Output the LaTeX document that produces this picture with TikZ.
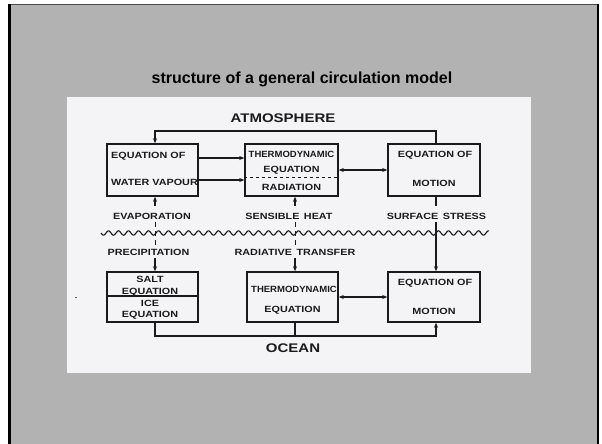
\documentclass[tikz,border=0pt]{standalone}
\usepackage{fontspec}
\setmainfont{Liberation Sans}
\newfontfamily\letterfont{Liberation Sans}[FakeStretch=1.2]
\usetikzlibrary{arrows.meta}
\definecolor{slidegray}{HTML}{B2B2B2}
\definecolor{paper}{HTML}{F4F4F6}
\definecolor{ink}{HTML}{1A1A1A}
\newcommand{\squeeze}[1]{\scalebox{0.88}[1]{#1}}
\begin{document}
\begin{tikzpicture}[x=1pt, y=-1pt, >={Stealth[length=5pt,width=4pt]},
    box/.style={draw=ink, line width=1.5pt, minimum width=91pt, minimum height=52pt, inner sep=0pt},
    lbl/.style={text=ink, font=\letterfont\bfseries\fontsize{9}{10}\selectfont, inner sep=1pt, text height=6.5pt, text depth=0pt},
    head/.style={text=ink, font=\letterfont\bfseries\fontsize{12.5}{13}\selectfont, inner sep=1pt, text height=9pt, text depth=0pt},
    conn/.style={draw=ink, line width=1.2pt},
    tick/.style={draw=ink, line width=1pt, dash pattern=on 5pt off 4pt}]
    \useasboundingbox (0,0) rectangle (602,444);

    % Folie und Rahmen
    \fill[white] (0,0) rectangle (602,444);
    \fill[slidegray] (9.5,4.5) rectangle (597.5,450);
    \draw[line width=1pt, black!70] (9.5,4.5) -- (597.5,4.5);
    \draw[line width=3pt] (9.5,4.5) -- (9.5,450);
    \draw[line width=2.5pt] (597.8,4.5) -- (597.8,450);
    \node[font=\bfseries\fontsize{16}{18}\selectfont, anchor=base, inner sep=0pt] (title) at (302,83) {structure of a general circulation model};

    % eingescanntes Blatt
    \fill[paper] (67,97) rectangle (531,373);

    % Spalten der senkrechten Verbindungen
    \coordinate (cA) at (155,0);
    \coordinate (cB) at (295,0);
    \coordinate (cC) at (436,0);
    \coordinate (top) at (0,131);
    \coordinate (bot) at (0,336);

    % Atmosphaere
    \node[head] (atm) at (283,118) {ATMOSPHERE};
    \node[box] (wv) at (152.5,170) {};
    \node[box, minimum width=93pt] (ta) at (291.5,170) {};
    \node[box, minimum width=92pt] (ma) at (434,170) {};
    \node[lbl, anchor=west] (wv1) at (110,155) {EQUATION OF};
    \node[lbl, anchor=west] (wv2) at (110,182) {WATER VAPOUR};
    \node[lbl] (ta1) at (291.5,154) {\squeeze{THERMODYNAMIC}};
    \node[lbl] (ta2) at (291.5,169) {EQUATION};
    \node[lbl] (ta3) at (291.5,187) {RADIATION};
    \node[lbl] (ma1) at (435,154) {EQUATION OF};
    \node[lbl] (ma2) at (434,183) {MOTION};
    \draw[ink, line width=1pt, dashed] ([yshift=-7pt]ta.west) -- ([yshift=-7pt]ta.east);

    \draw[conn, ->] ([yshift=12pt]wv.east) -- ([yshift=12pt]ta.west);
    \draw[conn, ->] ([yshift=-10pt]wv.east) -- ([yshift=-10pt]ta.west);
    \draw[conn, <->] (ta.east) -- (ma.west);
    \draw[conn, ->] (ma.north -| cC) |- (top -| cA) -- (wv.north -| cA);

    % Ozean
    \node[box, minimum height=50pt] (si) at (152.5,297) {};
    \node[box, minimum height=50pt] (to) at (292.5,297) {};
    \node[box, minimum width=92pt, minimum height=50pt] (mo) at (434,297) {};
    \draw[ink, line width=1.2pt] ([yshift=1pt]si.west) -- ([yshift=1pt]si.east);
    \node[lbl] (si1) at (150,279) {SALT};
    \node[lbl] (si2) at (150,291) {EQUATION};
    \node[lbl] (si3) at (150,303) {ICE};
    \node[lbl] (si4) at (150,314) {EQUATION};
    \node[lbl] (to1) at (294,289) {\squeeze{THERMODYNAMIC}};
    \node[lbl] (to2) at (292.5,309) {EQUATION};
    \node[lbl] (mo1) at (435,282) {EQUATION OF};
    \node[lbl] (mo2) at (434,311) {MOTION};
    \node[head] (ocean) at (293,348) {OCEAN};

    \draw[conn, <->] (to.east) -- (mo.west);
    \draw[conn, ->] (si.south -| cA) |- (bot -| cC) -- (mo.south -| cC);
    \draw[conn] (to.south -| cB) -- (bot -| cB);

    % Flüsse an der Oberflaeche
    \node[lbl] (evap) at (152,216) {EVAPORATION};
    \node[lbl] (sens) at (289,216) {SENSIBLE\, HEAT};
    \node[lbl] (stress) at (436.5,216) {SURFACE\, STRESS};
    \node[lbl] (precip) at (148.5,252) {PRECIPITATION};
    \node[lbl] (radtr) at (295,252) {RADIATIVE\, TRANSFER};

    \draw[conn, ->, shorten <=6pt] (evap.north -| cA) -- (wv.south -| cA);
    \draw[conn, ->, shorten <=6pt] (sens.north -| cB) -- (ta.south -| cB);
    \draw[conn, shorten >=6pt] (ma.south -| cC) -- (stress.north -| cC);
    \draw[conn, ->, shorten <=1.5pt] (stress.south -| cC) -- (mo.north -| cC);
    \draw[tick, shorten <=1.5pt, shorten >=1pt] (evap.south -| cA) -- (precip.north -| cA);
    \draw[tick, shorten <=1.5pt, shorten >=1pt] (sens.south -| cB) -- (radtr.north -| cB);
    \draw[conn, ->, shorten <=1.5pt] (precip.south -| cA) -- (si.north -| cA);
    \draw[conn, ->, shorten <=1.5pt] (radtr.south -| cB) -- (to.north -| cB);

    % Wasseroberflaeche
    \draw[ink, line width=1.1pt, domain=101:489, samples=400]
    plot (\x, {233 + 2.2*sin(36*(\x - 101))});

    % Fleck im Scan
    \draw[ink!70, line width=0.8pt] (74.5,297) -- (77,297);

\end{tikzpicture}
\end{document}
